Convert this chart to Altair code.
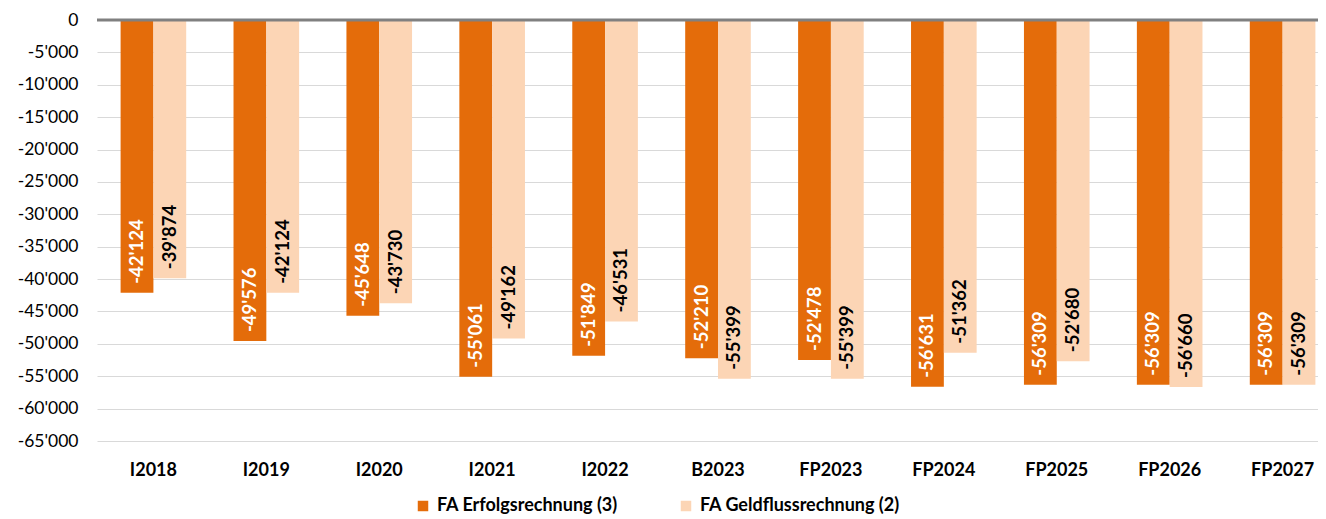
import altair as alt
import pandas as pd

categories = ["I2018", "I2019", "I2020", "I2021", "I2022", "B2023",
              "FP2023", "FP2024", "FP2025", "FP2026", "FP2027"]
erfolg = [-42124, -49576, -45648, -55061, -51849, -52210,
          -52478, -56631, -56309, -56309, -56309]
geldfluss = [-39874, -42124, -43730, -49162, -46531, -55399,
             -55399, -51362, -52680, -56660, -56309]
series_names = ["FA Erfolgsrechnung (3)", "FA Geldflussrechnung (2)"]
series_colors = ["#E46C0A", "#FCD5B5"]
label_colors = ["#FFFFFF", "#000000"]
y_ticks = list(range(0, -65001, -5000))

rows = []
for i, c in enumerate(categories):
    for s, vals, tc in zip(series_names, [erfolg, geldfluss], label_colors):
        v = vals[i]
        rows.append({"cat": c, "series": s, "value": v,
                     "label": f"{v:,}".replace(",", "'"), "tc": tc})
df = pd.DataFrame(rows)

FONT = "Lato"
label_expr = "replace(replace(format(datum.value, ','), ',', \"'\"), '\u2212', '-')"

x_enc = alt.X("cat:N", sort=categories,
              scale=alt.Scale(range=[0, 1242], paddingInner=0.419, paddingOuter=0.209),
              axis=alt.Axis(title=None, labelAngle=0, ticks=False, domain=False,
                            labelFont=FONT, labelFontWeight="bold", labelFontSize=18,
                            labelPadding=20, labelColor="#000000"))
xo_enc = alt.XOffset("series:N", sort=series_names)
y_enc = alt.Y("value:Q", scale=alt.Scale(domain=[-65000, 0], nice=False),
              axis=alt.Axis(title=None, values=y_ticks, tickCount=30,
                            labelExpr=label_expr,
                            grid=True, gridColor="#D9D9D9", gridWidth=1,
                            ticks=False, domain=False, labelFont=FONT,
                            labelFontSize=17.5, labelPadding=19,
                            labelOverlap=False, labelFlush=False,
                            labelColor="#000000"))

base = alt.Chart(df)

bars = base.mark_bar().encode(
    x=x_enc, xOffset=xo_enc, y=y_enc,
    color=alt.Color("series:N", sort=series_names,
                    scale=alt.Scale(domain=series_names, range=series_colors),
                    legend=alt.Legend(title=None, orient="none", legendX=317, legendY=477,
                                      direction="horizontal", symbolType="square",
                                      symbolSize=110, symbolStrokeWidth=0,
                                      labelFont=FONT, labelFontWeight="bold",
                                      labelFontSize=18, labelColor="#000000",
                                      labelLimit=400,
                                      columnPadding=59, labelOffset=5)),
)

texts = base.mark_text(angle=270, align="left", baseline="middle", dx=9,
                       font=FONT, fontWeight="bold", fontSize=18.5).encode(
    x=x_enc, xOffset=xo_enc, y=alt.Y("value:Q"),
    text="label:N",
    color=alt.Color("tc:N", scale=None),
)

zero = alt.Chart(pd.DataFrame({"y": [0]})).mark_rule(color="#808080", strokeWidth=3).encode(
    y=alt.Y("y:Q")
)

chart = alt.layer(bars, texts, zero).properties(
    width=1221, height=421,
    autosize=alt.AutoSizeParams(type="none"),
    padding={"left": 89, "top": 12, "right": 0, "bottom": 78},
).configure_view(stroke=None)

chart.save("out.html", embed_options={"renderer": "svg", "actions": False})
